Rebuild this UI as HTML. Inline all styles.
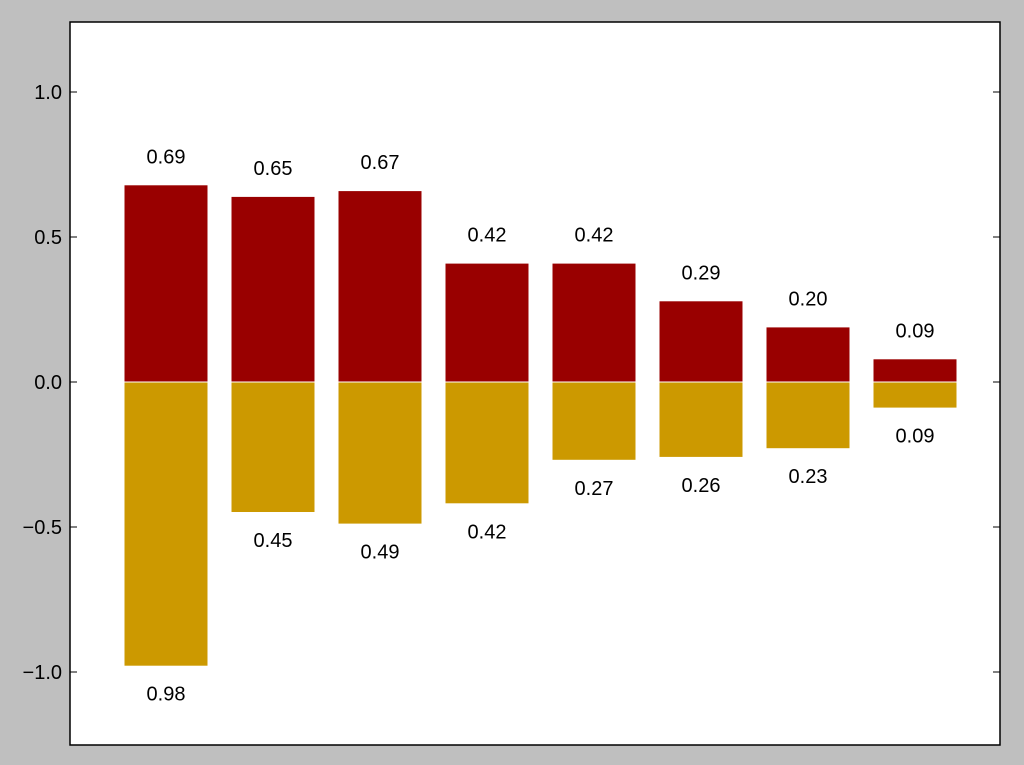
<!DOCTYPE html>
<html><head><meta charset="utf-8"><style>
html,body{margin:0;padding:0;background:#bfbfbf;}
svg{display:block;font-family:"Liberation Sans",sans-serif;}
</style></head><body>
<svg id="chart" width="1024" height="765">
<rect x="0" y="0" width="1024" height="765" fill="#bfbfbf"/>
<rect x="70" y="22" width="930" height="723" fill="#fff"/>
<g id="marks"></g>
<rect x="70" y="22" width="930" height="723" fill="none" stroke="#000" stroke-width="1.5"/>
<g id="ticks"></g>
</svg>
<script>
const categories = [0,1,2,3,4,5,6,7];
const upperValues = [0.68,0.64,0.66,0.41,0.41,0.28,0.19,0.08];
const lowerValues = [0.98,0.45,0.49,0.42,0.27,0.26,0.23,0.09];
const upperLabels = ["0.69","0.65","0.67","0.42","0.42","0.29","0.20","0.09"];
const yTicks = [1.0,0.5,0.0,-0.5,-1.0];
const yTickLabels = ["1.0","0.5","0.0","\u22120.5","\u22121.0"];

const NS="http://www.w3.org/2000/svg";
const yScale = v => 382 - v*290;
const xScale = i => 124 + i*107;
const barW = 84;
const marks=document.getElementById('marks');
const ticks=document.getElementById('ticks');
function mk(tag,attrs,parent){const e=document.createElementNS(NS,tag);for(const k in attrs)e.setAttribute(k,attrs[k]);parent.appendChild(e);return e;}

categories.forEach((c,i)=>{
  const x=xScale(c);
  const up=upperValues[i], lo=lowerValues[i];
  const r1=mk('rect',{x:x,y:yScale(up),width:barW,height:yScale(0)-yScale(up),fill:'#990000',stroke:'#fff','stroke-width':1},marks);
  
  
  const r2=mk('rect',{x:x,y:yScale(0),width:barW,height:yScale(-lo)-yScale(0),fill:'#cc9900',stroke:'#fff','stroke-width':1},marks);
  
  
  const t1=mk('text',{x:x+barW/2,y:yScale(up+0.05)-7,'text-anchor':'middle','font-size':20,fill:'#000'},marks);
  t1.textContent=upperLabels[i];
  
  
  const t2=mk('text',{x:x+barW/2,y:yScale(-lo-0.05)+20,'text-anchor':'middle','font-size':20,fill:'#000'},marks);
  t2.textContent=lo.toFixed(2);
  
  
});

yTicks.forEach((v,i)=>{
  const y=yScale(v);
  const l1=mk('line',{x1:70,x2:77,y1:y,y2:y,stroke:'#000','stroke-width':1},ticks);
  
  
  const l2=mk('line',{x1:993,x2:1000,y1:y,y2:y,stroke:'#000','stroke-width':1},ticks);
  
  
  const t=mk('text',{x:62,y:y+7,'text-anchor':'end','font-size':20,fill:'#000'},ticks);
  t.textContent=yTickLabels[i];
  
  
});
</script>
</body></html>
